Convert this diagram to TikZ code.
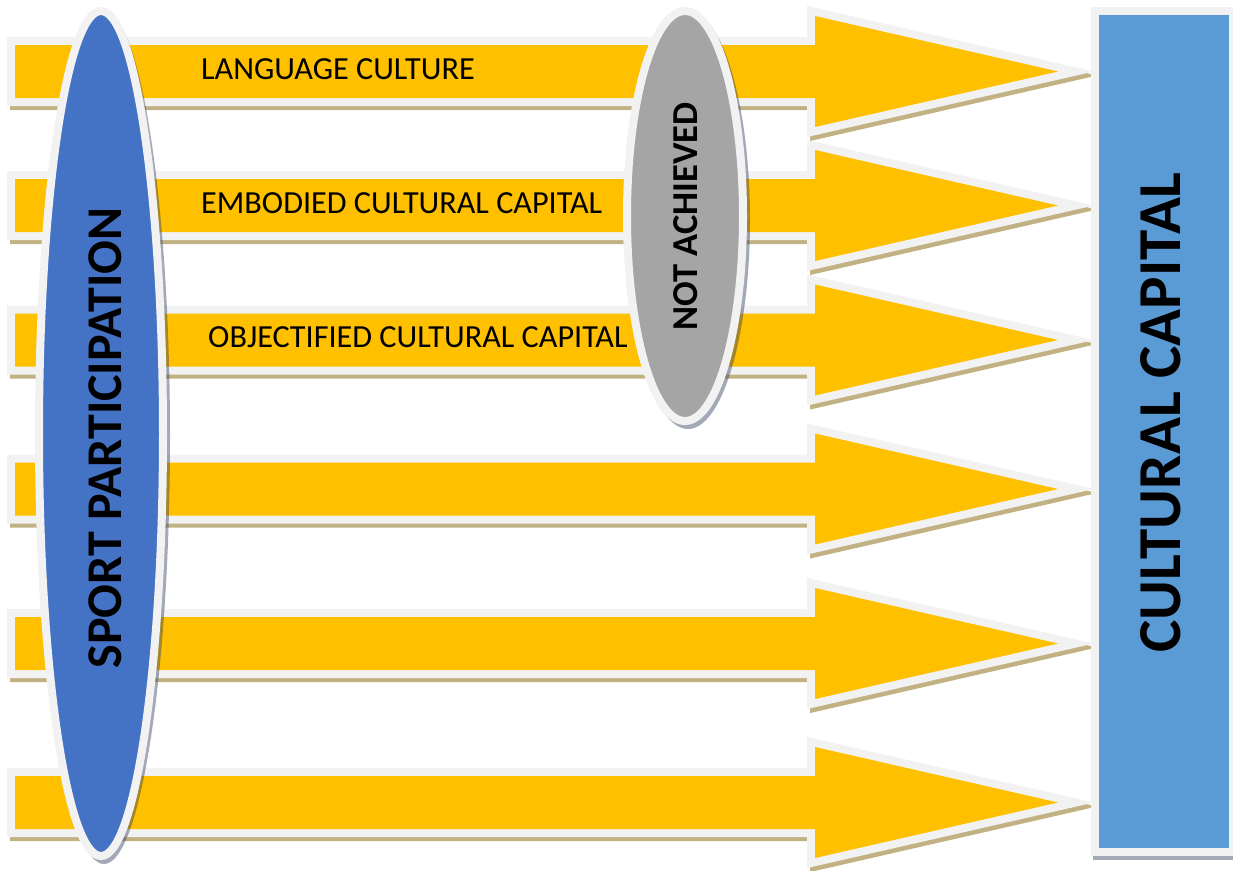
\documentclass[tikz,border=0pt]{standalone}
\usepackage{fontspec}
\setmainfont{Carlito}
\usetikzlibrary{shapes.geometric}
\definecolor{arrowyellow}{HTML}{FFC000}
\definecolor{rimgray}{HTML}{F2F2F2}
\definecolor{shadowtan}{HTML}{C2B283}
\definecolor{sportblue}{HTML}{4472C4}
\definecolor{capblue}{HTML}{5B9BD5}
\definecolor{notgray}{HTML}{A5A5A5}
\definecolor{shapeshadow}{HTML}{33415E}
\begin{document}
\begin{tikzpicture}[x=1pt,y=-1pt,line join=miter,
  arrowshadow/.style={fill=shadowtan,draw=shadowtan,line width=16pt},
  arrowbody/.style={fill=arrowyellow,preaction={draw=rimgray,line width=16pt}},
  softshadow/.style={fill=shapeshadow,fill opacity=0.45},
  rimmed/.style={draw=rimgray,line width=8pt,inner sep=0pt,outer sep=0pt},
  labeltext/.style={anchor=base west,font=\fontsize{32.2}{38}\selectfont,inner sep=0pt},
  vertlabel/.style={rotate=90,anchor=base,inner sep=0pt}]
\useasboundingbox (0,0) rectangle (1233,870);
\fill[white] (0,0) rectangle (1233,870);
% arrows
\foreach \c in {71.5,205.5,340,489,643.5,802.5}{
  \path[arrowshadow,shift={(3,4)}] (15,\c-26.5) -- (815,\c-26.5) -- (815,\c-55.5) -- (1058,\c) -- (815,\c+55.5) -- (815,\c+26.5) -- (15,\c+26.5) -- cycle;
  \path[arrowbody] (15,\c-26.5) -- (815,\c-26.5) -- (815,\c-55.5) -- (1058,\c) -- (815,\c+55.5) -- (815,\c+26.5) -- (15,\c+26.5) -- cycle;
}
% arrow labels
\node[labeltext] (lang) at (201,79) {LANGUAGE CULTURE};
\node[labeltext] (emb) at (201,213) {EMBODIED CULTURAL CAPITAL};
\node[labeltext] (obj) at (208,347) {OBJECTIFIED CULTURAL CAPITAL};
% sport participation ellipse
\coordinate (sportc) at (101,433.5);
\fill[softshadow] ([shift={(3,4)}]sportc) ellipse [x radius=66pt, y radius=426.5pt];
\node[ellipse,rimmed,fill=sportblue,minimum width=124pt,minimum height=845pt] (sport) at (sportc) {};
\node[vertlabel,font=\bfseries\fontsize{50}{60}\selectfont] (sporttext) at (121,438) {SPORT PARTICIPATION};
% not achieved ellipse
\coordinate (notc) at (685,216);
\fill[softshadow] ([shift={(3,4)}]notc) ellipse [x radius=62pt, y radius=209pt];
\node[ellipse,rimmed,fill=notgray,minimum width=116pt,minimum height=410pt] (notach) at (notc) {};
\node[vertlabel,font=\bfseries\fontsize{36.5}{44}\selectfont] (nottext) at (697,216.5) {NOT ACHIEVED};
% cultural capital box
\coordinate (capc) at (1164,431.5);
\fill[softshadow] (1093,11) rectangle (1239,860);
\node[rectangle,rimmed,fill=capblue,minimum width=138pt,minimum height=841pt] (cap) at (capc) {};
\node[vertlabel,font=\bfseries\fontsize{61}{73}\selectfont] (captext) at (1180,412.5) {CULTURAL CAPITAL};
\end{tikzpicture}
\end{document}
